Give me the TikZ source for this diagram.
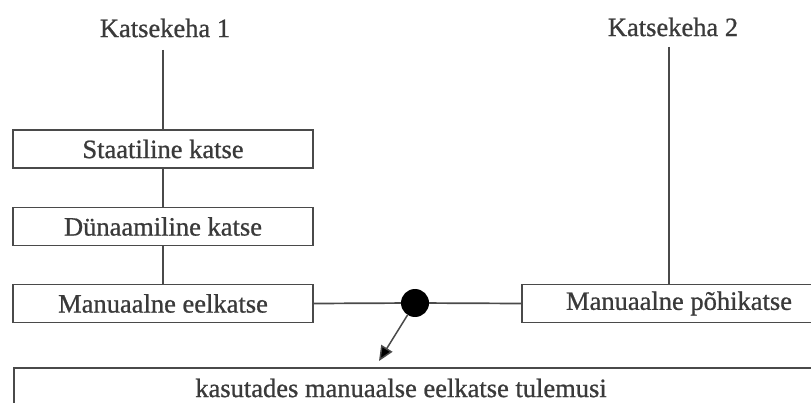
\documentclass[tikz,border=0pt]{standalone}
\usepackage{fontspec}
\setmainfont[FakeBold=0.8]{Liberation Serif}
\usetikzlibrary{arrows.meta}
\definecolor{ln}{HTML}{4A4A4A}
\definecolor{tx}{HTML}{3A3A3A}
\begin{document}
\begin{tikzpicture}[x=1pt,y=-1pt,
  lbl/.style={font=\fontsize{26.5}{28}\selectfont, text=tx, inner sep=0pt},
  stepbox/.style={draw=ln, line width=1.7pt, minimum height=38pt, inner sep=0pt,
    font=\fontsize{26.5}{28}\selectfont, text=tx, anchor=center},
  conn/.style={draw=ln, line width=1.7pt}]
\useasboundingbox (0,0) rectangle (811,403);
\clip (0,0) rectangle (811,403);
\fill[white] (0,0) rectangle (811,403);
\node[lbl] (k1) at (165,28) {Katsekeha 1};
\node[lbl] (k2) at (673,27) {Katsekeha 2};
\coordinate (k1top) at (163,50);
\coordinate (k2top) at (669,47);
\node[stepbox, minimum width=300pt] (st) at (163,149) {Staatiline katse};
\node[stepbox, minimum width=300pt] (dy) at (163,226.5) {Dünaamiline katse};
\node[stepbox, minimum width=300pt] (me) at (163,303.5) {Manuaalne eelkatse};
\node[stepbox, minimum width=314pt] (mp) at (679,303.5) {Manuaalne põhikatse};
\node[circle, fill=black, inner sep=0pt, minimum size=28pt] (dot) at (415,303) {};
\node[draw=ln, line width=1.7pt, minimum width=830pt, minimum height=60pt, anchor=north west, inner sep=0pt] (bb) at (13,367) {};
\node[lbl] (bt) at (401,388) {kasutades manuaalse eelkatse tulemusi};
\coordinate (tip) at (379,361);
\draw[conn] (k1top) -- (st.north);
\draw[conn] (st.south) -- (dy.north);
\draw[conn] (dy.south) -- (me.north);
\draw[conn] (k2top) -- (k2top |- mp.north);
\draw[conn] (me.east) -- (dot);
\draw[conn] (dot) -- (mp.west);
\draw[draw=ln, line width=1.5pt, -{Triangle[length=15pt,width=13pt,fill=black]}] (dot) -- (tip);
\end{tikzpicture}
\end{document}
